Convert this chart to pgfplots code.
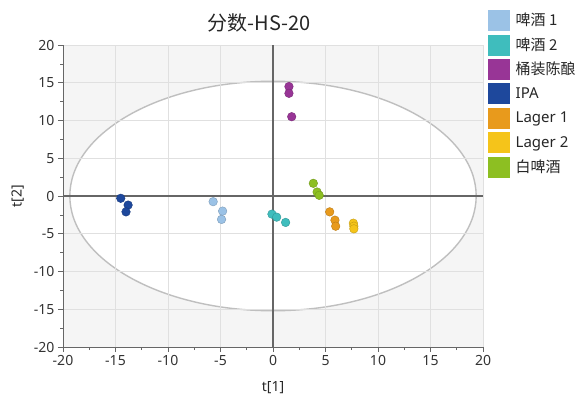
\documentclass[border=0pt]{standalone}
\usepackage{pgfplots}
\pgfplotsset{compat=1.18}
\usepackage{fontspec}
\setmainfont{Noto Sans}
\newfontfamily\cjk{Noto Sans CJK SC}
\definecolor{c1}{HTML}{9BC2E6}
\definecolor{c2}{HTML}{3FBDBD}
\definecolor{c3}{HTML}{983596}
\definecolor{c4}{HTML}{1E489C}
\definecolor{c5}{HTML}{E89A1C}
\definecolor{c6}{HTML}{F5C41A}
\definecolor{c7}{HTML}{8DBF22}
\begin{document}
\begin{tikzpicture}
\begin{axis}[
  name=ax, at={(0,0)}, anchor=south west,
  scale only axis, width=420bp, height=302bp,
  set layers,
  xmin=-20, xmax=20, ymin=-20, ymax=20,
  xtick={-20,-15,...,20}, ytick={-20,-15,...,20},
  minor tick num=1,
  axis x line*=bottom, axis y line*=left,
  axis line style={black!60, line width=0.8pt},
  tick align=outside, major tick length=5bp, minor tick length=3bp,
  tick style={black!60, line width=0.6pt},
  grid=major, grid style={black!12, line width=0.8pt},
  axis background/.style={fill=black!4},
  /pgf/number format/assume math mode=true,
  tick label style={font=\fontsize{14bp}{16bp}\selectfont, text=black!80},
  extra x ticks={0}, extra x tick labels={}, extra y ticks={0}, extra y tick labels={},
  extra tick style={grid=major, grid style={black!60, line width=1.1pt}, major tick length=0pt},
  xlabel={t[1]}, ylabel={t[2]},
  label style={font=\fontsize{14bp}{16bp}\selectfont, text=black!85},
  xlabel style={at={(axis description cs:0.5,-0.1457)}, anchor=base},
  ylabel style={at={(axis description cs:-0.108,0.5)}, anchor=center},
  title={\cjk 分数-HS-20},
  title style={font=\fontsize{20bp}{24bp}\selectfont, text=black!85, at={(0.467,1)}, anchor=base, yshift=9bp, inner sep=0pt},
  legend style={at={(1.005,1.1225)}, anchor=north west, draw=none, fill=none,
    font=\fontsize{15bp}{17bp}\selectfont, text=black!85, cells={anchor=west},
    row sep=4bp, nodes={inner sep=2bp},
    /tikz/every odd column/.style={column sep=4bp}},
  legend image code/.code={\fill (0bp,-10bp) rectangle (21bp,10bp);},
  every axis plot/.append style={only marks, mark=*, mark size=4.3bp},
]
\begin{pgfonlayer}{axis background}
\draw[black!25, line width=1.4pt, fill=white] (axis cs:0,0) ellipse [x radius=19.35, y radius=15.2];
\end{pgfonlayer}
\addplot[color=c1, mark options={fill=c1, draw=c1!80!black}] coordinates {(-5.7,-0.75) (-4.8,-2.0) (-4.9,-3.1)};
\addlegendentry{\cjk 啤酒 1}
\addplot[color=c2, mark options={fill=c2, draw=c2!80!black}] coordinates {(-0.1,-2.4) (0.35,-2.8) (1.2,-3.5)};
\addlegendentry{\cjk 啤酒 2}
\addplot[color=c3, mark options={fill=c3, draw=c3!80!black}] coordinates {(1.52,14.5) (1.52,13.6) (1.78,10.5)};
\addlegendentry{\cjk 桶装陈酿}
\addplot[color=c4, mark options={fill=c4, draw=c4!80!black}] coordinates {(-14.5,-0.3) (-13.8,-1.2) (-14.0,-2.1)};
\addlegendentry{IPA}
\addplot[color=c5, mark options={fill=c5, draw=c5!80!black}] coordinates {(5.4,-2.1) (5.9,-3.2) (5.97,-4.0)};
\addlegendentry{Lager 1}
\addplot[color=c6, mark options={fill=c6, draw=c6!80!black}] coordinates {(7.65,-3.6) (7.7,-4.0) (7.7,-4.35)};
\addlegendentry{Lager 2}
\addplot[color=c7, mark options={fill=c7, draw=c7!80!black}] coordinates {(3.84,1.68) (4.2,0.53) (4.4,0.09)};
\addlegendentry{\cjk 白啤酒}
\end{axis}
\pgfresetboundingbox
\useasboundingbox ([shift={(-63bp,-50bp)}]ax.south west) rectangle ([shift={(97bp,45bp)}]ax.north east);
\end{tikzpicture}
\end{document}
